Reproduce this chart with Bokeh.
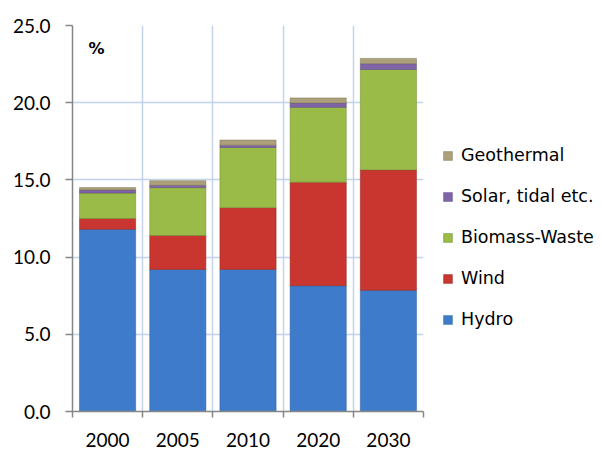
from bokeh.plotting import figure
from bokeh.models import (ColumnDataSource, FixedTicker, Legend, LegendItem, Label,
                          Grid, Range1d, NumeralTickFormatter)
from bokeh.embed import file_html
from bokeh.resources import INLINE

years = ["2000", "2005", "2010", "2020", "2030"]
hydro = [11.8, 9.2, 9.2, 8.15, 7.85]
wind = [0.7, 2.2, 4.0, 6.7, 7.8]
biomass = [1.65, 3.1, 3.9, 4.85, 6.5]
solar = [0.2, 0.15, 0.15, 0.28, 0.38]
geothermal = [0.15, 0.3, 0.33, 0.33, 0.34]
series = ["Hydro", "Wind", "Biomass-Waste", "Solar, tidal etc.", "Geothermal"]
colors = ["#3E7CCB", "#C9362F", "#9ABB48", "#8064A8", "#ABA07A"]
edge_colors = ["#2A5C9A", "#8E2420", "#6E8A30", "#5A4680", "#7E7656"]
y_ticks = [0, 5, 10, 15, 20, 25]

TICK_FONT = "Lato"
LEGEND_FONT = "DejaVu Sans"
keys = ["hydro", "wind", "biomass", "solar", "geothermal"]
xs = [i + 0.5 for i in range(len(years))]
source = ColumnDataSource(dict(x=xs, hydro=hydro, wind=wind, biomass=biomass,
                               solar=solar, geothermal=geothermal))

p = figure(frame_width=351, frame_height=386, output_backend="svg", toolbar_location=None,
           x_range=Range1d(0, len(years)), y_range=Range1d(0, 25),
           min_border_left=72, min_border_top=25, min_border_bottom=40, min_border_right=179)
p.outline_line_color = None
p.background_fill_color = "white"
p.border_fill_color = "white"

renderers = p.vbar_stack(keys, x="x", width=0.8, fill_color=colors, line_color=edge_colors,
                         line_alpha=0.5, line_width=1, source=source)

# grids
p.xgrid.visible = False
p.ygrid.ticker = FixedTicker(ticks=y_ticks)
p.ygrid.grid_line_color = "#C3D3EC"
p.ygrid.grid_line_width = 1.5
vgrid = Grid(dimension=0, ticker=FixedTicker(ticks=list(range(1, len(years) + 1))),
             grid_line_color="#C3D3EC", grid_line_width=1.5)
p.add_layout(vgrid)

# x axis
xa = p.xaxis[0]
xa.ticker = FixedTicker(ticks=xs, minor_ticks=list(range(0, len(years) + 1)))
xa.major_label_overrides = {x: y for x, y in zip(xs, years)}
xa.major_tick_line_color = None
xa.major_tick_out = 0
xa.major_tick_in = 0
xa.minor_tick_out = 6
xa.minor_tick_in = 0
xa.minor_tick_line_color = "#868686"
xa.minor_tick_line_width = 1.5
xa.axis_line_color = "#868686"
xa.axis_line_width = 1.5
xa.major_label_text_font = TICK_FONT
xa.major_label_text_font_size = "19px"
xa.major_label_text_color = "black"
xa.major_label_standoff = 15

# y axis
ya = p.yaxis[0]
ya.ticker = FixedTicker(ticks=y_ticks)
ya.formatter = NumeralTickFormatter(format="0.0")
ya.major_tick_out = 7
ya.major_tick_in = 0
ya.minor_tick_line_color = None
ya.major_tick_line_color = "#868686"
ya.major_tick_line_width = 1.5
ya.axis_line_color = "#868686"
ya.axis_line_width = 1.5
ya.major_label_text_font = TICK_FONT
ya.major_label_text_font_size = "19px"
ya.major_label_text_color = "black"
ya.major_label_standoff = 15

# legend (top to bottom: Geothermal ... Hydro)
items = [LegendItem(label=series[i], renderers=[renderers[i]]) for i in reversed(range(len(series)))]
legend = Legend(items=items, location=(19, 81), orientation="vertical",
                background_fill_alpha=0, border_line_color=None,
                label_text_font=LEGEND_FONT, label_text_font_size="17.5px", label_text_color="black",
                glyph_width=11, glyph_height=11, label_height=22, spacing=19,
                label_standoff=8, padding=0, margin=0)
p.add_layout(legend, "right")

p.add_layout(Label(x=16, y=363, x_units="screen", y_units="screen", text="%",
                   text_font=LEGEND_FONT, text_font_style="bold", text_font_size="16px",
                   text_baseline="middle", text_color="black"))

open("out.html", "w").write(file_html(p, INLINE))
